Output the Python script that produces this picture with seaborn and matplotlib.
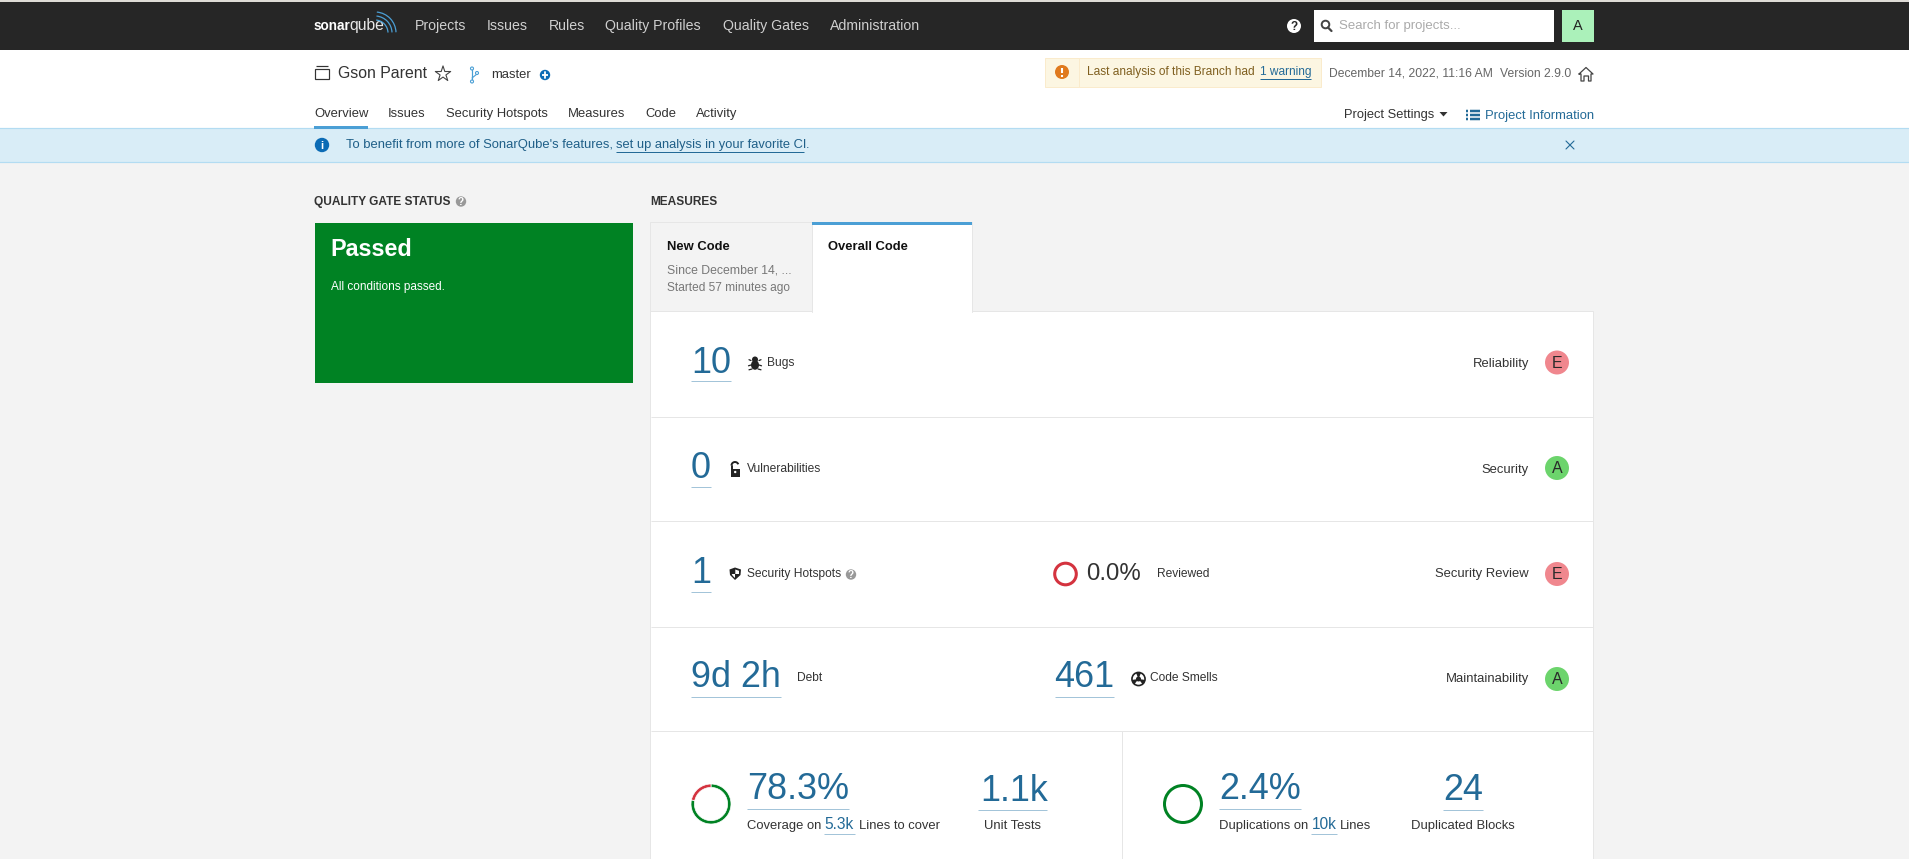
import numpy as np
import pandas as pd
import matplotlib
matplotlib.use("Agg")
import matplotlib.pyplot as plt
from matplotlib.patches import Rectangle, Circle, Ellipse, Arc, Polygon, Wedge
import seaborn as sns

# ---- content ----
NAV_ITEMS = ["Projects", "Issues", "Rules", "Quality Profiles", "Quality Gates", "Administration"]
PAGE_TABS = ["Overview", "Issues", "Security Hotspots", "Measures", "Code", "Activity"]
PROJECT = "Gson Parent"
BRANCH = "master"
ANALYSIS_DATE = "December 14, 2022, 11:16 AM"
VERSION = "Version 2.9.0"
RATING_NAMES = ["Reliability", "Security", "Security Review", "Maintainability"]
RATING_GRADES = ["E", "A", "E", "A"]
BUGS = "10"
VULNERABILITIES = "0"
HOTSPOTS = "1"
REVIEWED = "0.0%"
DEBT = "9d 2h"
SMELLS = "461"
COVERAGE_TEXT = "78.3%"
COVERAGE_SHARE = [78.3, 21.7]
LINES_TO_COVER = "5.3k"
UNIT_TESTS = "1.1k"
DUPLICATION_TEXT = "2.4%"
DUPLICATION_SHARE = [100.0]
DUP_LINES = "10k"
DUP_BLOCKS = "24"

# ---- colours ----
BG = "#f3f3f3"; DARK = "#262626"; LINE = "#e6e6e6"; BLUE = "#236a97"; TXT = "#333333"
ACCENT = "#4b9fd5"; ULINE = "#a3c4d9"; GREEN = "#008223"; RED = "#d4333f"; ICON = "#0b6bb5"
GRADE_COLORS = {"A": "#6cd46c", "E": "#f0878e"}

sns.set_theme(style="white")
plt.rcParams["font.family"] = ["Liberation Sans", "DejaVu Sans"]

fig = plt.figure(figsize=(19.09, 8.59), dpi=100, facecolor=BG)
ax = fig.add_axes([0, 0, 1, 1])
ax.set_facecolor(BG)


def t(x, cy, s, px=13, color=TXT, weight="normal", ha="left", z=5):
    ax.text(x, cy + 0.36 * px, s, fontsize=px * 0.72, color=color, weight=weight,
            ha=ha, va="baseline", zorder=z)


def rect(x0, y0, x1, y1, fc, ec="none", z=1, lw=1.0):
    ax.add_patch(Rectangle((x0, y0), x1 - x0, y1 - y0, facecolor=fc, edgecolor=ec,
                           linewidth=lw * 0.72, zorder=z))


def hline(x0, x1, y, color=ULINE, lw=1.0, z=4):
    ax.plot([x0, x1], [y, y], color=color, lw=lw * 0.72, solid_capstyle="butt", zorder=z)


def vline(x, y0, y1, color=LINE, lw=1.0, z=4):
    ax.plot([x, x], [y0, y1], color=color, lw=lw * 0.72, solid_capstyle="butt", zorder=z)


def disc(x, y, r, color, z=5):
    ax.add_patch(Circle((x, y), r, facecolor=color, edgecolor="none", zorder=z))


def help_icon(x, y, r=5.2, color="#999999", fg="white"):
    disc(x, y, r, color)
    ax.text(x, y + r * 0.68, "?", fontsize=7.2, color=fg, weight="bold",
            ha="center", va="baseline", zorder=6)


# ---- page frame ----
rect(0, 0, 1909, 2, "#dedbd6")
rect(0, 2, 1909, 50, DARK)
rect(0, 50, 1909, 128, "white")
rect(-2, 128, 1911, 162, "#d9edf7", ec="#b3dcf2", lw=1.2)

# logo
t(314, 25, "sonar", 13.6, "white", "bold")
t(349.5, 24.5, "qube", 15.8, "#e8e8e8")
for r_ in (13, 17, 21):
    ax.add_patch(Arc((375, 33), 2 * r_, 2 * r_, theta1=-85, theta2=-2, color=ACCENT, lw=0.9, zorder=5))

for name, x in zip(NAV_ITEMS, [415, 487, 549, 605, 723, 830]):
    t(x, 24.5, name, 14.1, "#cfcfcf")

# top-right controls
disc(1294, 26, 7, "white")
ax.text(1294, 30, "?", fontsize=8.5, color=DARK, weight="bold", ha="center", va="baseline", zorder=6)
rect(1314, 10, 1554, 42, "white", z=2)
ax.add_patch(Circle((1325.5, 24.5), 3.8, facecolor="none", edgecolor="#444444", linewidth=1.4, zorder=5))
ax.plot([1328, 1331.5], [27.5, 31], color="#444444", lw=1.6, zorder=5)
t(1339, 24.5, "Search for projects...", 13.2, "#aaaaaa")
rect(1562, 10, 1594, 42, "#abf1ba", z=2)
t(1578, 25, "A", 14.5, "#222222", ha="center")

# project line
rect(315, 68.5, 329, 78.5, "none", ec="#333333", z=5, lw=1.2)
hline(316, 328, 66, "#333333", 1.2)
t(338, 72, PROJECT, 15.9, TXT)
ax.scatter([443], [74], marker="*", s=135, facecolor="none", edgecolor="#444444", linewidths=0.8, zorder=5)
vline(472, 69, 81, ACCENT, 1.2)
ax.plot([472, 477, 477], [78, 74, 73], color=ACCENT, lw=0.8, zorder=4)
for px_, py_ in [(472, 68.5), (472, 81.5), (477, 73)]:
    ax.add_patch(Circle((px_, py_), 1.5, facecolor="white", edgecolor=ACCENT, linewidth=0.8, zorder=5))
t(491, 73.5, BRANCH, 13, TXT)
disc(545, 75, 5.2, ICON)
hline(542, 548, 75, "white", 1.8, z=6)
ax.plot([545, 545], [72, 78], color="white", lw=1.3, zorder=6)

# warning box
rect(1045, 58, 1320.5, 87, "#fcf6e2", ec="#faebcc", z=2)
vline(1079, 58, 87, "#faebcc")
disc(1062, 72, 7, "#e07a1e")
ax.plot([1062, 1062], [67.5, 73], color="white", lw=1.5, zorder=6, solid_capstyle="butt")
ax.plot([1062, 1062], [74.5, 76.5], color="white", lw=1.5, zorder=6, solid_capstyle="butt")
t(1087, 71, "Last analysis of this Branch had", 11.9, "#7f5f1f")
t(1260, 71, "1 warning", 11.9, BLUE)
hline(1260, 1311, 79, BLUE)
t(1329, 72.5, ANALYSIS_DATE, 12.1, "#666666")
t(1500, 72.5, VERSION, 12.1, "#666666")
ax.plot([1579, 1586, 1593, 1591, 1591, 1588.5, 1588.5, 1584, 1584, 1581, 1581, 1579],
        [74, 67.5, 74, 74, 81, 81, 76, 76, 81, 81, 74, 74], color="#444444", lw=0.9, zorder=5)

# page tabs
for name, x in zip(PAGE_TABS, [314, 388, 446, 568, 645, 696]):
    t(x, 112, name, 13, TXT)
rect(314, 126, 368, 128.5, ACCENT, z=4)

t(1344, 113, "Project Settings", 12.9, TXT)
ax.add_patch(Polygon([[1439.5, 112], [1447.5, 112], [1443.5, 116.5]], facecolor=TXT, edgecolor="none", zorder=5))
for yy in (110.5, 114.5, 118.5):
    hline(1466, 1468, yy, BLUE, 2.5)
    hline(1469.5, 1480, yy, BLUE, 2.5)
t(1485, 114, "Project Information", 13, BLUE)

# banner text
disc(322, 145, 7.2, ICON)
t(322, 145.3, "i", 11, "white", "bold", ha="center", z=6)
t(346, 143.5, "To benefit from more of SonarQube's features,", 13, "#1f5f88")
t(616, 143.5, "set up analysis in your favorite CI", 12.85, "#1f5f88")
t(805.5, 143.5, ".", 13, "#1f5f88")
hline(616, 804, 152, BLUE)
ax.plot([1566, 1574], [141, 149], color=BLUE, lw=0.8, zorder=5)
ax.plot([1566, 1574], [149, 141], color=BLUE, lw=0.8, zorder=5)

# quality gate
t(314, 200.5, "QUALITY GATE STATUS", 11.9, "#333333", "bold")
help_icon(461, 201.5)
t(650, 200.5, "MEASURES", 11.9, "#333333", "bold")
rect(315, 223, 633, 383, GREEN)
t(330.5, 248, "Passed", 23.4, "white", "bold")
t(331, 286, "All conditions passed.", 11.8, "white")

# measures panel
rect(650, 222, 812, 311, BG, ec=LINE, z=2)
rect(812, 222, 972, 312, "white", ec=LINE, z=2)
rect(650, 311, 1593, 862, "white", ec=LINE, z=1)
rect(812.5, 305, 971.5, 313, "white", z=3)
rect(812, 222, 972, 225, ACCENT, z=4)
t(667, 245, "New Code", 13, "#111111", "bold")
t(828, 245, "Overall Code", 13, "#111111", "bold")
t(667, 269, "Since December 14, ...", 12.2, "#777777")
t(667, 287, "Started 57 minutes ago", 11.9, "#777777")
for y_ in (417, 521, 627, 731):
    hline(650.5, 1593, y_, LINE, 1.0)
vline(1122, 731, 860)

BIG = 36


def big(x, cy, s, x1, uy, color=BLUE):
    t(x, cy, s, BIG, color)
    hline(x, x1, uy)


big(691, 360, BUGS, 731, 381)
big(691, 465, VULNERABILITIES, 711, 487)
big(691, 570, HOTSPOTS, 711, 592)
big(691, 674, DEBT, 781, 697)
big(1054.5, 674, SMELLS, 1114, 697)

# bug icon
ax.add_patch(Ellipse((755, 365), 8, 9.5, facecolor="#222222", edgecolor="none", zorder=5))
disc(755, 359.5, 3, "#222222")
for dy, dx0, dx1 in [(-3.5, 4, 6), (1, 4, 6.5), (5, 3, 6)]:
    for sg in (-1, 1):
        ax.plot([755 + sg * dx0, 755 + sg * dx1], [364 + dy, 364 + dy + (0.8 if dy > 0 else -0.8)],
                color="#222222", lw=0.9, zorder=4)
t(767, 362, "Bugs", 12, TXT)
# lock icon (open shackle)
rect(731, 468.5, 739.5, 476.5, "#222222", z=5)
ax.add_patch(Arc((735, 465.5), 7, 7, theta1=180, theta2=340, color="#222222", lw=1.4, zorder=5))
ax.plot([731.5, 731.5], [465.5, 469], color="#222222", lw=1.4, zorder=5)
disc(735.2, 472, 1.2, "white", z=6)
t(747, 468, "Vulnerabilities", 12, TXT)
# shield icon
ax.add_patch(Polygon([[729.5, 569.5], [735, 567.5], [741, 569.5], [740.5, 575], [735, 580], [730, 575]],
                     facecolor="#222222", edgecolor="none", zorder=5))
ax.add_patch(Polygon([[735.3, 569.5], [739, 570.8], [739, 574], [735.3, 574]], facecolor="white", edgecolor="none", zorder=6))
ax.add_patch(Polygon([[731.7, 574], [735, 574], [735, 578], [732.7, 575.8]], facecolor="white", edgecolor="none", zorder=6))
t(747, 572.5, "Security Hotspots", 12, TXT)
help_icon(851, 574.5)
ax.add_patch(Circle((1065.5, 574), 10.8, facecolor="none", edgecolor=RED, linewidth=2.2, zorder=5))
t(1086, 571, REVIEWED, 24, TXT)
t(1157, 572.5, "Reviewed", 12, TXT)
t(797, 677, "Debt", 12, TXT)
# code-smell icon
disc(1138.5, 679, 7.4, "#222222")
for a in (90, 210, 330):
    ax.add_patch(Wedge((1138.5, 679), 5.7, a - 38, a + 38, width=3.2, facecolor="white", edgecolor="none", zorder=6))
t(1150, 677, "Code Smells", 12, TXT)

# ratings
rating_y = [362.5, 468, 574, 679]
for name, y_ in zip(RATING_NAMES, [362, 468, 572.5, 677]):
    t(1529, y_, name, 13, TXT, ha="right")
ratings = pd.DataFrame({"name": RATING_NAMES, "grade": RATING_GRADES,
                        "x": [1557] * len(RATING_NAMES), "y": rating_y})
sns.scatterplot(data=ratings, x="x", y="y", hue="grade", palette=GRADE_COLORS, s=298,
                linewidth=0, legend=False, ax=ax, zorder=5)
for g, y_ in zip(RATING_GRADES, rating_y):
    t(1557, y_ - 0.5, g, 16, "#2a2a2a", ha="center", z=6)

# coverage / duplication
ax.pie(COVERAGE_SHARE, center=(711, 804), radius=20, startangle=-90, counterclock=True,
       colors=[GREEN, RED], frame=True,
       wedgeprops=dict(width=3.4, edgecolor="white", linewidth=0.5, zorder=5))
ax.pie(DUPLICATION_SHARE, center=(1183, 804), radius=20, startangle=-90, counterclock=True,
       colors=[GREEN], frame=True, wedgeprops=dict(width=3.0, linewidth=0, zorder=5))

big(747, 786, COVERAGE_TEXT, 849, 809)
t(747, 824, "Coverage on", 13, TXT)
t(824, 823, LINES_TO_COVER, 15.5, BLUE)
hline(824, 855, 834)
t(859, 824, "Lines to cover", 13, TXT)
t(980, 788, UNIT_TESTS, BIG, BLUE)
hline(978, 1047, 810)
t(1012.5, 824, "Unit Tests", 13, TXT, ha="center")

big(1219, 786, DUPLICATION_TEXT, 1301, 809)
t(1219, 824, "Duplications on", 13, TXT)
t(1312, 823, DUP_LINES, 15.5, BLUE)
hline(1311, 1337, 834)
t(1340, 824, "Lines", 13, TXT)
big(1443, 787, DUP_BLOCKS, 1483, 810)
t(1462.5, 824, "Duplicated Blocks", 13, TXT, ha="center")

ax.set_xlim(0, 1909)
ax.set_ylim(859, 0)
ax.set_aspect("auto")
ax.set_xticks([]); ax.set_yticks([])
ax.set_xlabel(""); ax.set_ylabel("")
for s_ in ax.spines.values():
    s_.set_visible(False)

fig.savefig("out.png", dpi=100, facecolor=BG)
